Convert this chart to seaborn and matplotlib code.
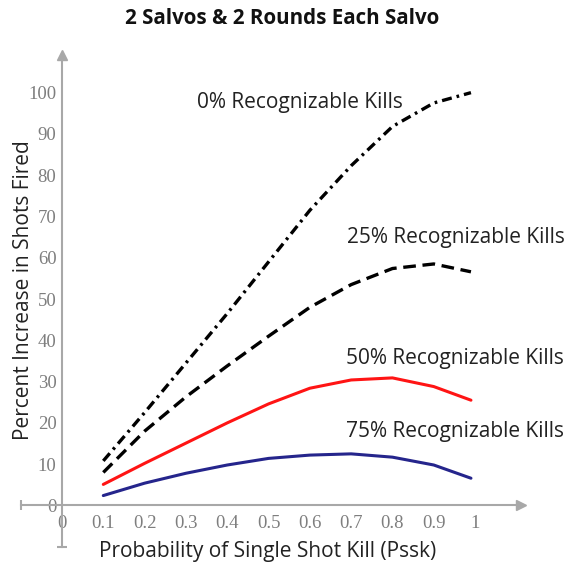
import matplotlib
matplotlib.use("Agg")
import matplotlib.pyplot as plt
import seaborn as sns
import pandas as pd

pssk = [0.1, 0.2, 0.3, 0.4, 0.5, 0.6, 0.7, 0.8, 0.9, 0.99]
kills_0 = [10.8, 22.5, 34.5, 46.5, 59.0, 71.5, 82.3, 91.8, 97.5, 100.0]
kills_25 = [8.0, 18.0, 26.3, 33.8, 41.0, 48.0, 53.5, 57.4, 58.5, 56.6]
kills_50 = [5.1, 10.2, 15.1, 20.0, 24.6, 28.4, 30.4, 30.9, 28.8, 25.5]
kills_75 = [2.4, 5.4, 7.8, 9.8, 11.4, 12.2, 12.5, 11.7, 9.8, 6.6]

labels = ["0% Recognizable Kills", "25% Recognizable Kills",
          "50% Recognizable Kills", "75% Recognizable Kills"]
x_ticks = [0, 0.1, 0.2, 0.3, 0.4, 0.5, 0.6, 0.7, 0.8, 0.9, 1]
x_tick_labels = ["0", "0.1", "0.2", "0.3", "0.4", "0.5", "0.6", "0.7", "0.8", "0.9", "1"]
y_ticks = [0, 10, 20, 30, 40, 50, 60, 70, 80, 90, 100]

sns.set_style("white")
plt.rcParams["font.family"] = ["Open Sans", "DejaVu Sans"]

fig = plt.figure(figsize=(5.67, 5.65), dpi=100)
ax = fig.add_axes([0.0219, 0.0177, 0.918, 0.906])

series = [
    (kills_0, "black", (0, (3, 1.5, 0.8, 1.5)), 2.4),
    (kills_25, "black", (0, (3.8, 2)), 2.4),
    (kills_50, "#ff1414", "-", 2.2),
    (kills_75, "#25258c", "-", 2.2),
]
for vals, col, ls, lw in series:
    df = pd.DataFrame({"pssk": pssk, "pct": vals})
    sns.lineplot(data=df, x="pssk", y="pct", ax=ax, color=col,
                 linestyle=ls, linewidth=lw)

ax.set_xlim(-0.12, 1.14)
ax.set_ylim(-12, 112)

axis_col = "#a8a8a8"
for side in ["top", "right"]:
    ax.spines[side].set_visible(False)
ax.spines["left"].set_position(("data", 0))
ax.spines["bottom"].set_position(("data", 0))
ax.spines["left"].set_bounds(-10, 108)
ax.spines["bottom"].set_bounds(-0.1, 1.1)
for side in ["left", "bottom"]:
    ax.spines[side].set_color(axis_col)
    ax.spines[side].set_linewidth(1.5)
ax.plot(1.11, 0, marker=">", color=axis_col, markersize=7, clip_on=False)
ax.plot(0, 109, marker="^", color=axis_col, markersize=7, clip_on=False)
ax.plot(-0.1, 0, marker="|", color=axis_col, markersize=7, mew=1.5)
ax.plot(0, -10, marker="_", color=axis_col, markersize=7, mew=1.5)

ax.set_xticks(x_ticks)
ax.set_xticklabels(x_tick_labels)
ax.set_yticks(y_ticks)
ax.tick_params(axis="both", direction="inout", length=6, width=1.2,
               color=axis_col, labelcolor="#7e7e7e", labelsize=13.5)
ax.tick_params(axis="x", pad=4)
ax.tick_params(axis="y", pad=1)
for t in ax.get_xticklabels() + ax.get_yticklabels():
    t.set_family("Liberation Serif")

ax.set_xlabel("Probability of Single Shot Kill (Pssk)", fontsize=15, color="#222222")
ax.set_ylabel("Percent Increase in Shots Fired", fontsize=15, color="#222222")
ax.xaxis.set_label_coords(0.491, 0.028)
ax.yaxis.set_label_coords(0.042, 0.518)

label_pos = [(0.326, 97.7), (0.69, 64.9), (0.688, 35.7), (0.688, 17.8)]
for txt, (lx, ly) in zip(labels, label_pos):
    ax.text(lx, ly, txt, fontsize=15, color="#222222", ha="left", va="center")

fig.text(0.497, 0.968, "2 Salvos & 2 Rounds Each Salvo", fontsize=14.8,
         fontweight="bold", ha="center", va="center", color="#111111")

fig.savefig("out.png", dpi=100)
